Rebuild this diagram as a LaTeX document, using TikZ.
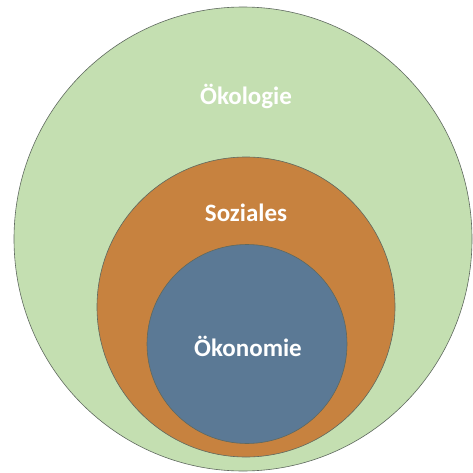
\documentclass[tikz,border=0pt]{standalone}
\usepackage{fontspec}
\setmainfont{Carlito}
\usepackage{tikz}
\usetikzlibrary{positioning}
\definecolor{EcoGreen}{RGB}{196, 223, 177}
\definecolor{SocOrange}{RGB}{199, 130, 63}
\definecolor{EconBlue}{RGB}{91, 121, 149}
\definecolor{RimGray}{RGB}{95, 105, 95}

\begin{document}
\begin{tikzpicture}[
    x=1pt, y=-1pt,
    ring/.style={draw=RimGray, line width=0.6pt},
    label/.style={text=white, font=\fontsize{25}{30}\selectfont\bfseries, inner sep=0pt}
]

% Canvas
\useasboundingbox[fill=white] (0,0) rectangle (473,473);

% Circles
\draw[ring, fill=EcoGreen] (243,239) ellipse [x radius=229, y radius=232];
\draw[ring, fill=SocOrange] (246,307) ellipse [x radius=149, y radius=150];
\draw[ring, fill=EconBlue] (247,344) ellipse [x radius=100, y radius=99.5];

% Labels
\node[label] (eco) at (246,96) {Ökologie};
\node[label] (soc) at (246,213) {Soziales};
\node[label] (econ) at (248,346) {Ökonomie};

\end{tikzpicture}
\end{document}
